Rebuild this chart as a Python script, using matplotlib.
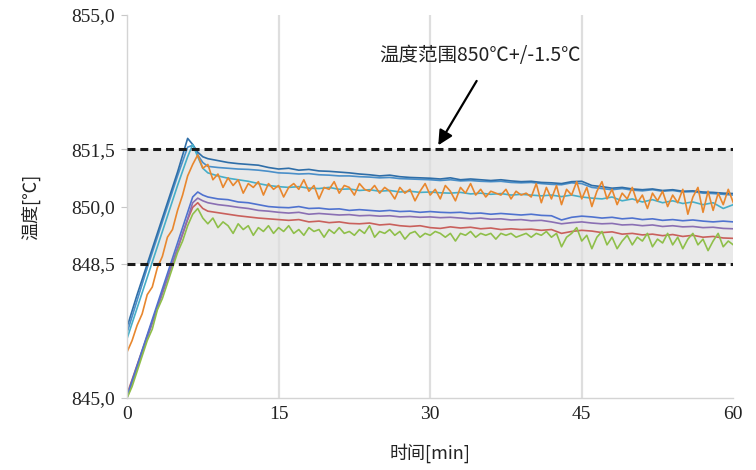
import numpy as np
import matplotlib
matplotlib.use("Agg")
import matplotlib.pyplot as plt

# ---------------- data ----------------
t_smooth = [0, 1, 2, 3, 4, 5, 6, 6.5, 7, 7.5] + list(range(8, 61))
t_noisy = [i * 0.5 for i in range(121)]

temp_darkblue = [846.85, 847.7, 848.5, 849.3, 850.1, 850.9, 851.78, 851.62, 851.42, 851.3,
                 851.25, 851.2, 851.15, 851.12, 851.1, 851.08, 851.02, 850.98, 851.0, 850.95,
                 850.97, 850.93, 850.92, 850.9, 850.88, 850.85, 850.83, 850.8, 850.82, 850.78,
                 850.76, 850.75, 850.74, 850.72, 850.75, 850.7, 850.72, 850.7, 850.68, 850.7,
                 850.67, 850.65, 850.66, 850.63, 850.62, 850.6, 850.65, 850.66, 850.55, 850.52,
                 850.48, 850.5, 850.46, 850.44, 850.46, 850.42, 850.44, 850.4, 850.41, 850.38,
                 850.37, 850.35, 850.34]
temp_blue2 = [846.7, 847.55, 848.4, 849.2, 850.0, 850.8, 851.55, 851.6, 851.35, 851.15,
              851.05, 851.02, 851.0, 850.98, 850.97, 850.95, 850.92, 850.88, 850.87, 850.85,
              850.86, 850.83, 850.82, 850.8, 850.8, 850.78, 850.77, 850.75, 850.76, 850.73,
              850.72, 850.71, 850.7, 850.68, 850.7, 850.67, 850.68, 850.66, 850.65, 850.66,
              850.63, 850.62, 850.63, 850.6, 850.58, 850.57, 850.62, 850.6, 850.5, 850.47,
              850.44, 850.47, 850.43, 850.41, 850.44, 850.4, 850.42, 850.38, 850.39, 850.35,
              850.34, 850.32, 850.3]
temp_cyan = [846.55, 847.35, 848.15, 848.95, 849.75, 850.55, 851.3, 851.62, 851.3, 851.0,
             850.88, 850.8, 850.74, 850.7, 850.66, 850.6, 850.55, 850.52, 850.5, 850.52,
             850.48, 850.47, 850.5, 850.45, 850.46, 850.42, 850.44, 850.4, 850.42, 850.38,
             850.4, 850.37, 850.38, 850.36, 850.35, 850.37, 850.33, 850.35, 850.32, 850.34,
             850.3, 850.32, 850.3, 850.28, 850.3, 850.26, 850.3, 850.25, 850.22, 850.2,
             850.25, 850.15, 850.2, 850.12, 850.18, 850.1, 850.15, 850.08, 850.12, 850.05,
             850.1, 849.95, 850.05]
temp_blue = [845.05, 845.85, 846.65, 847.45, 848.25, 849.05, 849.85, 850.25, 850.38, 850.3,
             850.25, 850.2, 850.18, 850.12, 850.1, 850.05, 850.0, 849.98, 849.97, 850.0,
             849.95, 849.96, 849.93, 849.94, 849.9, 849.92, 849.9, 849.88, 849.9, 849.87,
             849.88, 849.85, 849.87, 849.85, 849.84, 849.85, 849.82, 849.83, 849.8, 849.82,
             849.8, 849.78, 849.8, 849.77, 849.76, 849.65, 849.72, 849.75, 849.73, 849.7,
             849.72, 849.68, 849.7, 849.66, 849.68, 849.64, 849.66, 849.63, 849.65, 849.62,
             849.6, 849.62, 849.6]
temp_purple = [845.0, 845.78, 846.56, 847.34, 848.12, 848.9, 849.68, 850.1, 850.22, 850.15,
               850.1, 850.05, 850.02, 849.98, 849.95, 849.9, 849.88, 849.85, 849.83, 849.85,
               849.8, 849.82, 849.8, 849.78, 849.79, 849.76, 849.77, 849.75, 849.76, 849.73,
               849.74, 849.72, 849.73, 849.71, 849.72, 849.7, 849.68, 849.7, 849.67, 849.68,
               849.65, 849.66, 849.63, 849.64, 849.6, 849.55, 849.58, 849.6, 849.57, 849.55,
               849.56, 849.52, 849.53, 849.5, 849.52, 849.48, 849.5, 849.47, 849.48, 849.45,
               849.46, 849.43, 849.42]
temp_red = [845.1, 845.86, 846.62, 847.38, 848.14, 848.9, 849.66, 849.98, 850.1, 849.95,
            849.88, 849.84, 849.8, 849.76, 849.73, 849.7, 849.68, 849.66, 849.64, 849.66,
            849.6, 849.62, 849.58, 849.6, 849.56, 849.55, 849.57, 849.52, 849.54, 849.5,
            849.48, 849.5, 849.45, 849.43, 849.47, 849.44, 849.46, 849.42, 849.44, 849.4,
            849.42, 849.4, 849.41, 849.38, 849.4, 849.3, 849.35, 849.38, 849.36, 849.32,
            849.34, 849.28, 849.3, 849.26, 849.28, 849.24, 849.27, 849.22, 849.25, 849.2,
            849.22, 849.18, 849.17]
temp_orange = [846.2, 846.5, 846.9, 847.2, 847.7, 847.9, 848.4, 848.7, 849.2, 849.4,
               849.9, 850.3, 850.8, 851.1, 851.35, 851.0, 851.1, 850.7, 850.85, 850.5,
               850.75, 850.55, 850.7, 850.35, 850.6, 850.5, 850.65, 850.3, 850.6, 850.45,
               850.55, 850.25, 850.5, 850.6, 850.45, 850.7, 850.4, 850.55, 850.2, 850.5,
               850.45, 850.65, 850.35, 850.55, 850.5, 850.3, 850.6, 850.45, 850.4, 850.55,
               850.35, 850.5, 850.4, 850.2, 850.5, 850.35, 850.45, 850.15, 850.4, 850.6,
               850.3, 850.45, 850.2, 850.55, 850.4, 850.15, 850.5, 850.35, 850.6, 850.3,
               850.45, 850.25, 850.4, 850.35, 850.3, 850.45, 850.2, 850.4, 850.3, 850.35,
               850.25, 850.6, 850.1, 850.5, 850.2, 850.55, 850.05, 850.45, 850.3, 850.65,
               850.2, 850.5, 850.0, 850.4, 850.65, 850.2, 850.45, 850.05, 850.35, 850.2,
               850.5, 850.1, 850.3, 849.95, 850.35, 850.15, 850.4, 850.0, 850.3, 850.1,
               850.45, 849.8, 850.25, 850.5, 849.85, 850.4, 849.9, 850.35, 850.05, 850.45,
               850.1]
temp_green = [845.0, 845.3, 845.7, 846.1, 846.5, 846.8, 847.3, 847.6, 848.0, 848.4,
              848.8, 849.1, 849.5, 849.8, 849.95, 849.7, 849.55, 849.7, 849.45, 849.6,
              849.5, 849.3, 849.55, 849.4, 849.5, 849.25, 849.45, 849.35, 849.5, 849.3,
              849.45, 849.35, 849.5, 849.3, 849.4, 849.25, 849.45, 849.35, 849.4, 849.2,
              849.4, 849.3, 849.45, 849.3, 849.35, 849.25, 849.4, 849.3, 849.5, 849.2,
              849.35, 849.3, 849.4, 849.25, 849.35, 849.15, 849.3, 849.35, 849.2, 849.3,
              849.25, 849.35, 849.3, 849.2, 849.3, 849.1, 849.3, 849.25, 849.35, 849.2,
              849.3, 849.25, 849.3, 849.15, 849.3, 849.25, 849.3, 849.2, 849.25, 849.3,
              849.2, 849.3, 849.25, 849.35, 849.2, 849.3, 848.95, 849.2, 849.3, 849.45,
              849.1, 849.25, 848.9, 849.2, 849.35, 849.0, 849.2, 848.9, 849.1, 849.25,
              849.0, 849.2, 849.1, 849.3, 848.95, 849.15, 849.05, 849.3, 849.0, 849.2,
              848.9, 849.15, 849.3, 849.0, 849.15, 848.85, 849.1, 849.3, 848.95, 849.1,
              849.0]

band_low, band_high = 848.5, 851.5
x_ticks = [0, 15, 30, 45, 60]
x_tick_labels = ["0", "15", "30", "45", "60"]
y_ticks = [845.0, 848.5, 850.0, 851.5, 855.0]
y_tick_labels = ["845,0", "848,5", "850,0", "851,5", "855,0"]
annotation_text = "温度范围850℃+/-1.5℃"
x_label = "时间[min]"
y_label = "温度[℃]"

# ---------------- plot ----------------
cjk = ["Noto Sans CJK SC", "DejaVu Sans"]
num_font = ["Liberation Serif", "DejaVu Serif"]

fig = plt.figure(figsize=(7.56, 4.70), dpi=100)
ax = fig.add_axes([0.168, 0.153, 0.802, 0.815])

ax.set_xlim(0, 60)
ax.set_ylim(845, 855)

ax.axhspan(band_low, band_high, color="#e9e9e9", zorder=0, lw=0)
for xv in [15, 30, 45]:
    ax.axvline(xv, color="#dedede", lw=1.6, zorder=0.5)

series = [
    (t_smooth, temp_red, "#c9605c"),
    (t_smooth, temp_purple, "#8a6fb3"),
    (t_smooth, temp_blue, "#4f72cf"),
    (t_noisy, temp_green, "#8fbf4a"),
    (t_smooth, temp_blue2, "#4a8fc9"),
    (t_smooth, temp_darkblue, "#2f6ea8"),
    (t_smooth, temp_cyan, "#46aec8"),
    (t_noisy, temp_orange, "#e8872e"),
]
for tx, ty, col in series:
    ax.plot(tx, ty, color=col, lw=1.2, zorder=2)

for yv in [band_low, band_high]:
    ax.axhline(yv, color="#1a1a1a", lw=2.2, dashes=(2.6, 1.6), zorder=5)

ax.annotate("", xy=(30.8, 851.6), xytext=(34.6, 853.28),
            arrowprops=dict(arrowstyle="-|>", color="black", lw=1.6,
                            mutation_scale=22, shrinkA=0, shrinkB=0), zorder=6)
ax.text(34.95, 853.95, annotation_text, ha="center", va="center",
        fontsize=14, family=cjk, color="#222222")

for s in ["top", "right"]:
    ax.spines[s].set_visible(False)
for s in ["left", "bottom"]:
    ax.spines[s].set_color("#d4d4d4")
    ax.spines[s].set_linewidth(1.0)

ax.set_xticks(x_ticks)
ax.set_xticklabels(x_tick_labels, family=num_font, fontsize=14, color="#222222")
ax.set_yticks(y_ticks)
ax.set_yticklabels(y_tick_labels, family=num_font, fontsize=14, color="#222222")
ax.tick_params(axis="x", length=0, pad=6)
ax.tick_params(axis="y", length=4, color="#c8c8c8", pad=5)

ax.set_xlabel(x_label, family=cjk, fontsize=13, color="#222222", labelpad=14)
ax.set_ylabel(y_label, family=cjk, fontsize=13, color="#222222", labelpad=22)

fig.savefig("out.png", dpi=100)
